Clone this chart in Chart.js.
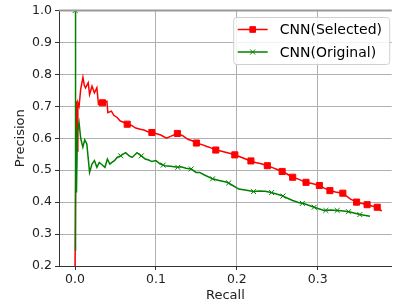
<!DOCTYPE html>
<html>
<head>
<meta charset="utf-8">
<script src="https://cdn.jsdelivr.net/npm/chart.js@4.4.1/dist/chart.umd.min.js"></script>
<style>
  body { margin: 0; background: #fff; }
  #wrap { width: 397px; height: 307px; }
</style>
</head>
<body>
<div id="wrap"><canvas id="prChart"></canvas></div>
<script>
// data
const xTicks = [0, 0.1, 0.2, 0.3];
const yTicks = [0.2, 0.3, 0.4, 0.5, 0.6, 0.7, 0.8, 0.9, 1.0];
const seriesNames = ['CNN(Selected)', 'CNN(Original)'];

const selCurve = [
  [0, 0.20], [0.0015, 0.716], [0.0025, 0.56], [0.0035, 0.711], [0.005, 0.70],
  [0.007, 0.753], [0.0098, 0.791], [0.0115, 0.765], [0.013, 0.758], [0.0163, 0.774],
  [0.018, 0.737], [0.021, 0.763], [0.024, 0.742], [0.027, 0.758], [0.029, 0.706],
  [0.032, 0.712], [0.034, 0.711], [0.0394, 0.716], [0.0406, 0.680], [0.045, 0.685],
  [0.048, 0.672], [0.052, 0.665], [0.056, 0.654], [0.060, 0.650], [0.0645, 0.644],
  [0.070, 0.640], [0.075, 0.632], [0.081, 0.628], [0.086, 0.625], [0.090, 0.620],
  [0.095, 0.618], [0.100, 0.615], [0.106, 0.610], [0.113, 0.600], [0.118, 0.606],
  [0.1265, 0.615], [0.133, 0.608], [0.140, 0.596], [0.145, 0.592], [0.150, 0.585],
  [0.157, 0.580], [0.163, 0.574], [0.168, 0.570], [0.174, 0.563], [0.180, 0.560],
  [0.186, 0.556], [0.192, 0.552], [0.1975, 0.548], [0.203, 0.543], [0.210, 0.536],
  [0.2174, 0.529], [0.223, 0.524], [0.230, 0.520], [0.2377, 0.514], [0.244, 0.508],
  [0.250, 0.502], [0.256, 0.496], [0.262, 0.488], [0.269, 0.478], [0.276, 0.472],
  [0.2855, 0.462], [0.293, 0.458], [0.302, 0.452], [0.308, 0.444], [0.315, 0.436],
  [0.322, 0.432], [0.331, 0.428], [0.340, 0.410], [0.348, 0.400], [0.355, 0.396],
  [0.361, 0.392], [0.367, 0.388], [0.3735, 0.384], [0.379, 0.372]
];
const selMarks = [
  [0.034, 0.711], [0.0645, 0.644], [0.095, 0.618], [0.1265, 0.615], [0.150, 0.585],
  [0.174, 0.563], [0.1975, 0.548], [0.2174, 0.529], [0.2377, 0.514], [0.256, 0.496],
  [0.269, 0.478], [0.2855, 0.462], [0.302, 0.452], [0.315, 0.436], [0.331, 0.428],
  [0.348, 0.400], [0.361, 0.392], [0.3735, 0.384]
];

const origCurve = [
  [0, 0.25], [0.0003, 1.0], [0.001, 0.50], [0.0018, 0.43], [0.003, 0.62],
  [0.005, 0.649], [0.007, 0.60], [0.0097, 0.572], [0.012, 0.595], [0.0146, 0.582],
  [0.016, 0.545], [0.018, 0.493], [0.021, 0.519], [0.024, 0.530], [0.027, 0.509],
  [0.030, 0.524], [0.0333, 0.517], [0.037, 0.509], [0.040, 0.535], [0.043, 0.519],
  [0.046, 0.525], [0.0487, 0.530], [0.052, 0.540], [0.056, 0.545], [0.0625, 0.555],
  [0.067, 0.545], [0.0706, 0.540], [0.0766, 0.555], [0.082, 0.545], [0.0868, 0.535],
  [0.091, 0.532], [0.095, 0.527], [0.100, 0.530], [0.105, 0.520], [0.111, 0.514],
  [0.118, 0.512], [0.127, 0.509], [0.131, 0.511], [0.137, 0.506], [0.1436, 0.504],
  [0.1496, 0.493], [0.154, 0.493], [0.160, 0.485], [0.170, 0.473], [0.178, 0.468],
  [0.188, 0.462], [0.195, 0.452], [0.2024, 0.441], [0.210, 0.438], [0.2207, 0.433],
  [0.228, 0.435], [0.235, 0.434], [0.241, 0.431], [0.248, 0.426], [0.255, 0.421],
  [0.262, 0.413], [0.269, 0.405], [0.276, 0.399], [0.2835, 0.395], [0.2956, 0.384],
  [0.3078, 0.374], [0.316, 0.375], [0.324, 0.374], [0.332, 0.372], [0.340, 0.369],
  [0.352, 0.361], [0.3646, 0.356]
];
const origMarks = [
  [0.0003, 1.0], [0.0565, 0.545], [0.082, 0.545], [0.109, 0.516], [0.127, 0.509],
  [0.1436, 0.504], [0.170, 0.473], [0.190, 0.460], [0.2207, 0.433], [0.243, 0.430],
  [0.257, 0.419], [0.281, 0.396], [0.2956, 0.384], [0.310, 0.374], [0.324, 0.374],
  [0.338, 0.370], [0.352, 0.361]
];

const RED = '#ff0000';
const GREEN = '#008000';
const FONT = 'DejaVu Sans';

// matplotlib-like legend box in the upper right corner
const legendBox = {
  id: 'legendBox',
  afterDatasetsDraw(chart) {
    const c = chart.ctx;
    const area = chart.chartArea;
    const w = 156, h = 47;
    const x0 = area.right - 2 - w, y0 = area.top + 7;
    c.save();
    c.beginPath();
    c.roundRect(x0, y0, w, h, 3);
    c.fillStyle = 'rgba(255,255,255,0.85)';
    c.fill();
    c.strokeStyle = '#d0d0d0';
    c.lineWidth = 1;
    c.stroke();

    const styles = [
      { color: RED, pointStyle: 'rect', radius: 4 },
      { color: GREEN, pointStyle: 'crossRot', radius: 3.5 }
    ];
    seriesNames.forEach((name, i) => {
      const cy = y0 + 12 + i * 22.5;
      const s = styles[i];
      c.strokeStyle = s.color;
      c.fillStyle = s.color;
      c.lineWidth = 1.5;
      c.beginPath();
      c.moveTo(x0 + 4, cy);
      c.lineTo(x0 + 34, cy);
      c.stroke();
      c.lineWidth = 1;
      Chart.helpers.drawPoint(c, { pointStyle: s.pointStyle, radius: s.radius, rotation: 0, borderWidth: 1 }, x0 + 19, cy);
      c.fillStyle = '#000';
      c.font = '14px "' + FONT + '"';
      c.textBaseline = 'middle';
      c.fillText(name, x0 + 46, cy + 1);
    });
    c.restore();
  },
  afterDraw(chart) {
    // top spine
    const c = chart.ctx;
    const area = chart.chartArea;
    c.save();
    c.strokeStyle = '#999';
    c.lineWidth = 2;
    c.beginPath();
    c.moveTo(area.left, area.top);
    c.lineTo(area.right, area.top);
    c.stroke();
    c.restore();
  }
};

new Chart(document.getElementById('prChart'), {
  type: 'line',
  data: {
    datasets: [
      {
        label: seriesNames[1], data: origCurve, order: 1,
        borderColor: GREEN, borderWidth: 1.5, pointRadius: 0, tension: 0, fill: false
      },
      {
        label: seriesNames[1] + ' markers', data: origMarks, order: 1, showLine: false,
        pointStyle: 'crossRot', pointRadius: 3.5, borderColor: GREEN, borderWidth: 1
      },
      {
        label: seriesNames[0], data: selCurve, order: 2,
        borderColor: RED, borderWidth: 1.5, pointRadius: 0, tension: 0, fill: false
      },
      {
        label: seriesNames[0] + ' markers', data: selMarks, order: 2, showLine: false,
        pointStyle: 'rect', pointRadius: 4.3, backgroundColor: RED, borderColor: RED, borderWidth: 1
      }
    ]
  },
  options: {
    responsive: true,
    maintainAspectRatio: false,
    animation: false,
    events: [],
    layout: { padding: { top: 9, left: 0, right: 0, bottom: 0 } },
    plugins: {
      legend: { display: false },
      tooltip: { enabled: false }
    },
    scales: {
      x: {
        type: 'linear',
        min: -0.0198,
        max: 0.3914,
        afterBuildTicks: s => { s.ticks = xTicks.map(v => ({ value: v })); },
        afterFit: s => { s.height = 41; },
        grid: { color: '#b0b0b0', lineWidth: 1, tickColor: '#333', tickLength: 4 },
        border: { color: '#333', width: 1 },
        ticks: {
          color: '#222', padding: 2, maxRotation: 0,
          font: { family: FONT, size: 12.5 },
          callback: v => v.toFixed(1)
        },
        title: {
          display: true, text: 'Recall', color: '#222',
          font: { family: FONT, size: 13 },
          padding: { top: 0, bottom: 4 }
        }
      },
      y: {
        min: 0.2,
        max: 1.0,
        afterBuildTicks: s => { s.ticks = yTicks.map(v => ({ value: v })); },
        afterFit: s => { s.width = 59; },
        grid: { color: '#b0b0b0', lineWidth: 1, tickColor: '#333', tickLength: 4 },
        border: { color: '#333', width: 1 },
        ticks: {
          color: '#222', padding: 3,
          font: { family: FONT, size: 12.5 },
          callback: v => v.toFixed(1)
        },
        title: {
          display: true, text: 'Precision', color: '#222',
          font: { family: FONT, size: 13 },
          padding: { top: 13, bottom: 0 }
        }
      }
    }
  },
  plugins: [legendBox]
});
</script>
</body>
</html>
